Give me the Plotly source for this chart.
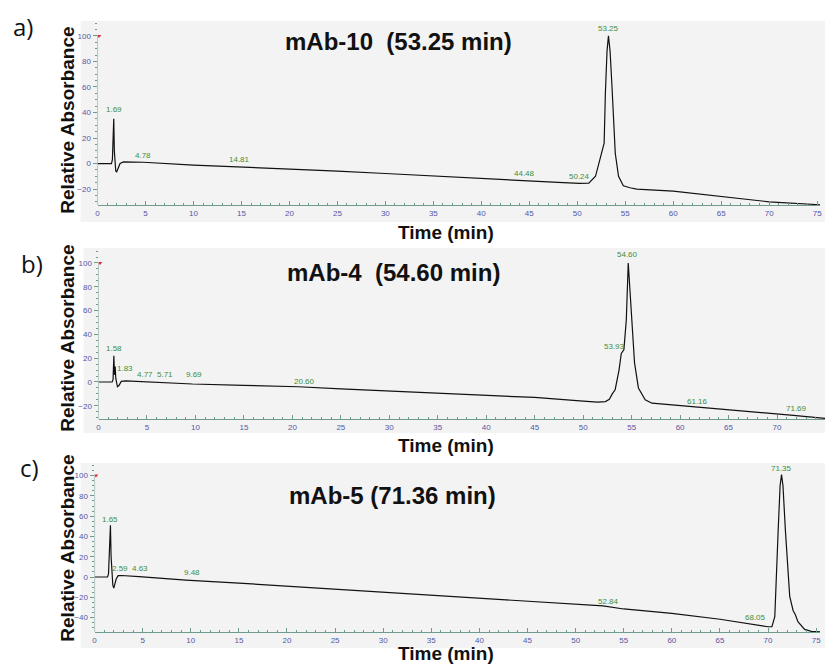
import plotly.graph_objects as go

W, H = 827, 665

# ---------------- data ----------------
# panel a: mAb-10
ta = [0, 1.45, 1.55, 1.63, 1.69, 1.75, 1.82, 1.9, 2.0, 2.15, 2.35, 2.7, 4.78, 10, 14.81, 20, 25, 30, 35, 40,
      44.48, 48, 50.24, 51.2, 51.9, 52.45, 52.8, 52.93, 53.1, 53.25, 53.42, 53.62, 53.8, 53.96, 54.3, 54.8,
      55.5, 56.2, 60, 65, 70, 75.3]
va = [0, 0, 3, 33, 35, 10, -2, -6, -6.5, -4, 0, 1.3, 1.0, -1.2, -2.6, -4.5, -6, -7.8, -9.9, -11.7,
      -13.3, -14.8, -15.6, -15.4, -10, 5.7, 16, 55, 88, 100, 88, 60, 28, 8, -10, -17.5,
      -19, -20, -21.6, -26, -30, -32.3]
lab_a_x = [1.69, 4.78, 14.81, 44.48, 50.24, 53.25, 75.7]
lab_a_y = [42, 6, 3, -7.5, -10.5, 106, -27]
lab_a_t = ["1.69", "4.78", "14.81", "44.48", "50.24", "53.25", "75.7"]

# panel b: mAb-4
tb = [0, 1.4, 1.5, 1.58, 1.65, 1.72, 1.78, 1.85, 1.95, 2.1, 2.35, 2.8, 4.77, 5.71, 9.69, 15, 20.6, 25, 30, 35,
      40, 45, 50, 51.5, 52.3, 52.7, 53.0, 53.3, 53.7, 53.93, 54.2, 54.45, 54.65, 54.85, 55.0, 55.3, 55.7,
      56.4, 57.1, 61.16, 65, 70, 71.69, 74.95]
vb = [0, 0, 2, 22, 6, 13, 3, -2, -4, -3, 0.5, 1, 0.3, 0, -1.7, -2.8, -4, -5.8, -7.5, -9.2,
      -11, -13, -16, -17, -16.5, -14.6, -10, -6.5, 10, 24, 27, 52, 100, 75, 52, 16, -5,
      -15, -17.8, -20.5, -23.5, -27, -28, -30.5]
lab_b_x = [1.58, 2.75, 4.8, 6.9, 9.8, 21.2, 53.2, 54.6, 61.8, 72.0]
lab_b_y = [28, 11, 6, 6, 6, 0, 30, 107, -16, -22.5]
lab_b_t = ["1.58", "1.83", "4.77", "5.71", "9.69", "20.60", "53.93", "54.60", "61.16", "71.69"]

# panel c: mAb-5
tc = [0, 1.35, 1.45, 1.52, 1.58, 1.65, 1.72, 1.8, 1.9, 2.0, 2.1, 2.25, 2.45, 2.8, 4.63, 9.48, 15, 20, 25, 30,
      35, 40, 45, 50, 52.84, 55, 60, 65, 68.05, 70, 70.4, 70.7, 71.05, 71.25, 71.4, 71.55, 71.8, 72.25,
      72.6, 72.85, 73.1, 73.8, 74.5, 75.4]
vc = [0, 0, 3, 20, 22, 51, 20, 0, -8, -11, -8, -2, 1.3, 1.5, 0.3, -3, -6, -9, -11.8, -14.5,
      -17.5, -20.4, -23.7, -26.6, -28.5, -31.5, -35.8, -41.6, -46.5, -49, -49, -39, 46, 90, 101, 90, 46, -19,
      -33, -37.5, -44, -51.6, -53.5, -54]
lab_c_x = [1.65, 2.6, 4.7, 10.1, 53.4, 68.7, 71.35]
lab_c_y = [57, 8, 8, 4, -24, -40, 107]
lab_c_t = ["1.65", "2.59", "4.63", "9.48", "52.84", "68.05", "71.35"]

titles = ["mAb-10  (53.25 min)", "mAb-4  (54.60 min)", "mAb-5 (71.36 min)"]
panel_letters = ["a)", "b)", "c)"]

# ---------------- layout geometry (pixels) ----------------
panels = [
    dict(t=ta, v=va, lx=lab_a_x, ly=lab_a_y, lt=lab_a_t, x0=96, x1=822, y0=21, y1=205,
         xr=[0, 75.3], yr=[-32.5, 111.7], yt=[-20, 0, 20, 40, 60, 80, 100],
         frame=(79, 827, 21, 222), title_xy=(398, 42), time_y=232, ytitle_y=120, letter_xy=(21, 26)),
    dict(t=tb, v=vb, lx=lab_b_x, ly=lab_b_y, lt=lab_b_t, x0=97, x1=827, y0=248, y1=419,
         xr=[0, 74.95], yr=[-31.1, 112.6], yt=[-20, 0, 20, 40, 60, 80, 100],
         frame=(82, 827, 248, 433), title_xy=(393, 273), time_y=445, ytitle_y=338, letter_xy=(30, 264)),
    dict(t=tc, v=vc, lx=lab_c_x, ly=lab_c_y, lt=lab_c_t, x0=93, x1=822, y0=463, y1=632,
         xr=[0, 75.4], yr=[-54.2, 112.4], yt=[-40, -20, 0, 20, 40, 60, 80, 100],
         frame=(79, 827, 463, 648), title_xy=(392, 495), time_y=653, ytitle_y=548, letter_xy=(28, 467)),
]

AX = "#6f9a8e"
TICKC = "#5656a6"
GREEN = "#3d8f3d"
SMALL = "Liberation Sans Narrow, Liberation Sans, Arial"

fig = go.Figure()
shapes = []
annotations = []
layout = {}

for i, p in enumerate(panels):
    n = "" if i == 0 else str(i + 1)
    xa, ya = "x" + n, "y" + n
    fig.add_trace(go.Scatter(x=p["t"], y=p["v"], mode="lines", xaxis=xa, yaxis=ya,
                             line=dict(color="#111111", width=1.2), showlegend=False, hoverinfo="skip"))
    # red marker at top of y axis
    fig.add_trace(go.Scatter(x=[0.15], y=[100], mode="markers", xaxis=xa, yaxis=ya,
                             marker=dict(symbol="triangle-down", size=4, color="#e03030"),
                             showlegend=False, hoverinfo="skip"))
    layout["xaxis" + n] = dict(
        domain=[p["x0"] / W, p["x1"] / W], range=p["xr"], anchor=ya,
        tickvals=list(range(0, 80, 5)), ticks="inside", ticklen=4, tickcolor=AX, tickwidth=1,
        minor=dict(dtick=1, ticks="inside", ticklen=2, tickcolor=AX),
        showline=True, linecolor=AX, linewidth=1, showgrid=False, zeroline=False,
        tickfont=dict(family=SMALL, size=8, color=TICKC),
        fixedrange=True)
    layout["yaxis" + n] = dict(
        domain=[1 - p["y1"] / H, 1 - p["y0"] / H], range=p["yr"], anchor=xa,
        tickvals=p["yt"], ticks="outside", ticklen=4, tickcolor=AX, tickwidth=1,
        minor=dict(dtick=5, ticks="outside", ticklen=2, tickcolor=AX),
        showline=False, showgrid=False, zeroline=False,
        tickfont=dict(family=SMALL, size=8, color=TICKC),
        fixedrange=True)
    fx0, fx1, fy0, fy1 = p["frame"]
    shapes.append(dict(type="rect", xref="paper", yref="paper", x0=fx0 / W, x1=fx1 / W,
                       y0=1 - fy1 / H, y1=1 - fy0 / H, fillcolor="#f3f3f3", line=dict(width=0),
                       layer="below"))
    # y axis line up to 100
    shapes.append(dict(type="line", xref=xa, yref=ya, x0=0, x1=0, y0=p["yr"][0], y1=100,
                       line=dict(color=AX, width=1), layer="above"))
    for lx, ly, lt in zip(p["lx"], p["ly"], p["lt"]):
        annotations.append(dict(x=lx, y=ly, xref=xa, yref=ya, text=lt, showarrow=False,
                                font=dict(family=SMALL, size=8, color=GREEN),
                                xanchor="center", yanchor="middle"))
    tx, ty = p["title_xy"]
    annotations.append(dict(x=tx / W, y=1 - ty / H, xref="paper", yref="paper", text="<b>%s</b>" % titles[i],
                            showarrow=False, font=dict(family="Liberation Sans", size=24, color="#111111"),
                            xanchor="center", yanchor="middle"))
    annotations.append(dict(x=446 / W, y=1 - p["time_y"] / H, xref="paper", yref="paper",
                            text="<b>Time (min)</b>", showarrow=False,
                            font=dict(family="Liberation Sans", size=19, color="#111111"),
                            xanchor="center", yanchor="middle"))
    annotations.append(dict(x=65 / W, y=1 - p["ytitle_y"] / H, xref="paper", yref="paper",
                            text="<b>Relative Absorbance</b>", showarrow=False, textangle=-90,
                            font=dict(family="Liberation Sans", size=19, color="#111111"),
                            xanchor="center", yanchor="middle"))
    lx_, ly_ = p["letter_xy"]
    annotations.append(dict(x=lx_ / W, y=1 - ly_ / H, xref="paper", yref="paper", text=panel_letters[i],
                            showarrow=False, font=dict(family="Open Sans", size=24, color="#111111"),
                            xanchor="center", yanchor="middle"))

fig.update_layout(width=W, height=H, margin=dict(l=0, r=0, t=0, b=0),
                  paper_bgcolor="white", plot_bgcolor="#eaeaea",
                  shapes=shapes, annotations=annotations, **layout)

fig.write_html("out.html")
